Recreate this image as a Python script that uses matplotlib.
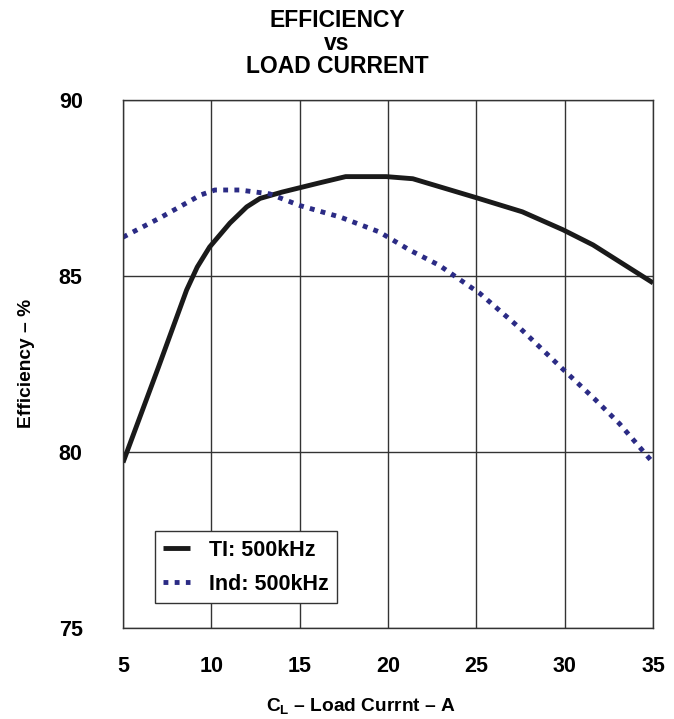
import numpy as np
import matplotlib.pyplot as plt

plt.rcParams['font.family'] = ['Liberation Sans', 'DejaVu Sans']
plt.rcParams['font.weight'] = 'bold'
plt.rcParams['mathtext.fontset'] = 'custom'
plt.rcParams['mathtext.rm'] = 'Liberation Sans:bold'
plt.rcParams['mathtext.it'] = 'Liberation Sans:bold'
plt.rcParams['mathtext.bf'] = 'Liberation Sans:bold'

# TI: 500kHz
ti_x = np.array([5, 7, 8.6, 9.2, 9.9, 11.05, 12, 12.75, 14, 16.1, 17.6, 19.9, 21.4,
                 25, 27.6, 29.9, 31.6, 35])
ti_y = np.array([79.7, 82.4, 84.6, 85.25, 85.82, 86.5, 86.96, 87.2, 87.38, 87.64, 87.82, 87.82, 87.76,
                 87.22, 86.82, 86.31, 85.88, 84.8])

# Ind: 500kHz
ind_x = np.array([5, 7.1, 9.4, 10.2, 11.6, 13.3, 15, 17.3, 19.5, 21.2, 22.9, 25.2, 27.5,
                  30, 31.7, 33.1, 34.9])
ind_y = np.array([86.1, 86.65, 87.3, 87.44, 87.44, 87.33, 87.0, 86.67, 86.25, 85.74, 85.3, 84.5,
                  83.5, 82.3, 81.5, 80.8, 79.75])

fig = plt.figure(figsize=(6.74, 7.19), dpi=100)
ax = fig.add_axes([0.1825, 0.1266, 0.7865, 0.7345])

ax.plot(ti_x, ti_y, color='#1a1a1a', lw=3.5, solid_capstyle='butt',
        solid_joinstyle='round', label='TI: 500kHz')
ax.plot(ind_x, ind_y, color='#2b2b85', lw=3.5, linestyle=(0, (1, 1.3)), label='Ind: 500kHz')

ax.set_xlim(5, 35)
ax.set_ylim(75, 90)
ax.set_xticks([5, 10, 15, 20, 25, 30, 35])
ax.set_yticks([75, 80, 85, 90])
ax.tick_params(length=0, labelsize=15.5)
ax.tick_params(axis='x', pad=20)
ax.tick_params(axis='y', pad=29)
ax.grid(True, color='#333333', lw=1)
for s in ax.spines.values():
    s.set_color('#333333')
    s.set_linewidth(1)

ax.set_ylabel('Efficiency – %', fontsize=13.8, fontweight='bold', labelpad=17)
fig.text(0.536, 0.004, r'$\mathrm{C_L}$ – Load Currnt – A', ha='center', va='bottom',
         fontsize=13.8, fontweight='bold')
fig.text(0.5, 0.988, 'EFFICIENCY\nvs\nLOAD CURRENT', ha='center', va='top',
         fontsize=16.5, fontweight='bold', linespacing=1.0)

leg = ax.legend(loc='lower left', bbox_to_anchor=(0.06, 0.047), fontsize=15.5, frameon=True,
                fancybox=False, edgecolor='#333333', handlelength=1.25, borderpad=0.4,
                labelspacing=0.6, handletextpad=0.85, borderaxespad=0)
leg.get_frame().set_linewidth(1)
leg.get_frame().set_alpha(1)

fig.savefig('out.png', dpi=100)
